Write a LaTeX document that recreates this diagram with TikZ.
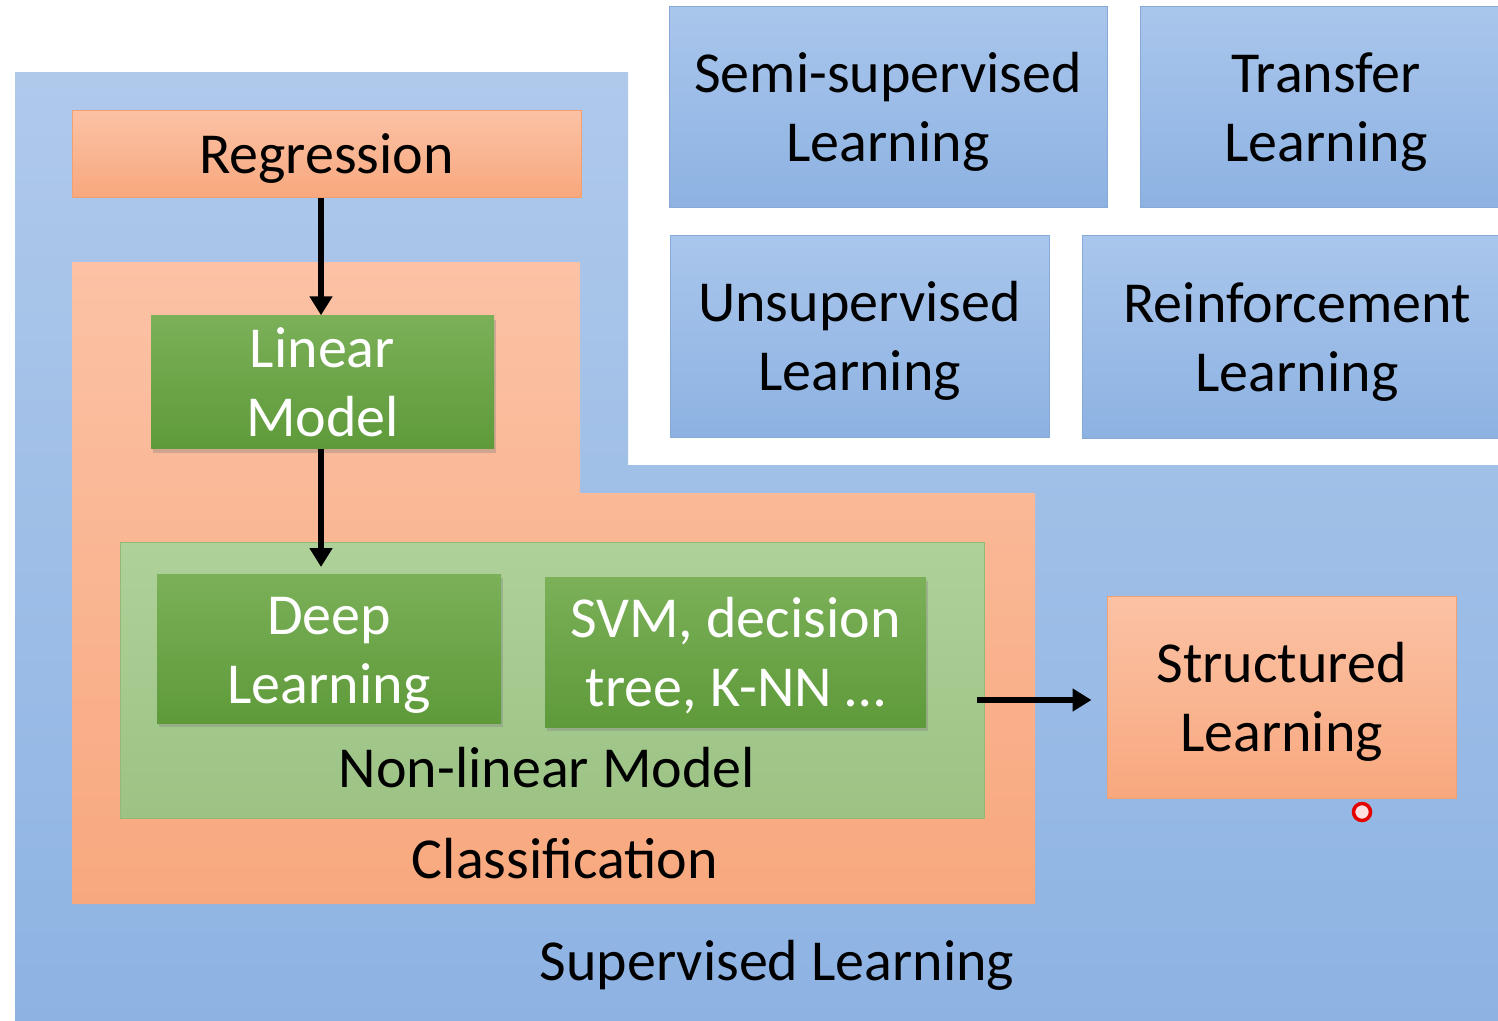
\documentclass[tikz,border=0pt]{standalone}
\usepackage{fontspec}
\setmainfont{Carlito}
\usetikzlibrary{arrows.meta,shadows}
\definecolor{bluetop}{HTML}{AFC9EB}
\definecolor{bluebot}{HTML}{8DB3E3}
\definecolor{bluebord}{HTML}{86A9D8}
\definecolor{bxtop}{HTML}{A9C6EC}
\definecolor{bxbot}{HTML}{8DB2E2}
\definecolor{ortop}{HTML}{FBC2A5}
\definecolor{orbot}{HTML}{F8A87E}
\definecolor{orbord}{HTML}{F2A06F}
\definecolor{grtop}{HTML}{7BB058}
\definecolor{grbot}{HTML}{5E9A3A}
\definecolor{lgtop}{HTML}{AED199}
\definecolor{lgbot}{HTML}{9CC284}
\definecolor{lgbord}{HTML}{92B978}
\newcommand{\mystrut}{\rule[-12pt]{0pt}{64pt}}
\tikzset{
  x=1pt, y=-1pt,
  txt/.style={font=\fontsize{58}{69}\selectfont, align=center, inner sep=0pt},
  bluebox/.style={txt, draw=bluebord, line width=1pt, top color=bxtop, bottom color=bxbot, text=black},
  orbox/.style={txt, draw=orbord, line width=1pt, top color=ortop, bottom color=orbot, text=black},
  grbox/.style={txt, draw=none, top color=grtop, bottom color=grbot, text=white,
     drop shadow={shadow xshift=2pt, shadow yshift=-4pt, opacity=0.35}},
  arr/.style={line width=6pt, -{Triangle[length=19pt,width=22pt]}},
}
\begin{document}
\begin{tikzpicture}
\useasboundingbox (0,0) rectangle (1498,1020);
\fill[white] (0,0) rectangle (1498,1020);
\begin{scope}
\clip (0,0) rectangle (1498,1020);
% Supervised learning region (L-shape)
\shade[top color=bluetop, bottom color=bluebot]
  (15,72) -- (628,72) -- (628,465) -- (1510,465) -- (1510,1030) -- (15,1030) -- cycle;
% Classification region
\shade[top color=ortop, bottom color=orbot]
  (72,262) -- (580,262) -- (580,493) -- (1035,493) -- (1035,904) -- (72,904) -- cycle;
% Non-linear region
\node[draw=lgbord, line width=1pt, top color=lgtop, bottom color=lgbot,
      minimum width=864pt, minimum height=276pt, inner sep=0pt] (nonlin) at (552,680) {};
% boxes
\node[orbox, minimum width=509pt, minimum height=87pt] (reg) at (326.5,153.5) {\mystrut Regression};
\node[grbox, minimum width=343pt, minimum height=132pt] (lin) at (322.5,382) {\mystrut Linear\\\mystrut Model};
\node[grbox, minimum width=344pt, minimum height=149pt] (deep) at (329,648.5) {\mystrut Deep\\\mystrut Learning};
\node[grbox, minimum width=381pt, minimum height=150pt] (svm) at (735.5,652) {\mystrut SVM, decision\\\mystrut tree, K-NN \dots};
\node[orbox, minimum width=349pt, minimum height=202pt] (struct) at (1281.5,697) {\mystrut Structured\\\mystrut Learning};
\node[bluebox, minimum width=438pt, minimum height=201pt] (semi) at (888,106.5) {\mystrut Semi-supervised\\\mystrut Learning};
\node[bluebox, minimum width=372pt, minimum height=201pt] (transfer) at (1326,106.5) {\mystrut Transfer\\\mystrut Learning};
\node[bluebox, minimum width=379pt, minimum height=202pt] (unsup) at (859.5,336) {\mystrut Unsupervised\\\mystrut Learning};
\node[bluebox, minimum width=430pt, minimum height=203pt] (reinf) at (1297,336.5) {\mystrut Reinforcement\\\mystrut Learning};
% labels
\node[txt] (nllabel) at (547,767) {\mystrut Non-linear Model};
\node[txt] (clabel) at (565,858) {\mystrut Classification};
\node[txt] (slabel) at (777,960) {\mystrut Supervised Learning};
% arrows
\coordinate (deeptop) at (321,567);
\coordinate (nlright) at (977,700);
\draw[arr] (reg.south -| 321,0) -- (lin.north -| 321,0);
\draw[arr] (lin.south -| 321,0) -- (deeptop);
\draw[arr, shorten >=15pt] (nlright) -- (struct.west |- nlright);
% laser pointer dot
\node[circle, draw=red!90!black, line width=3.5pt, fill=red!12, minimum size=17pt, inner sep=0pt] (laser) at (1362,812) {};
\end{scope}
\end{tikzpicture}
\end{document}
